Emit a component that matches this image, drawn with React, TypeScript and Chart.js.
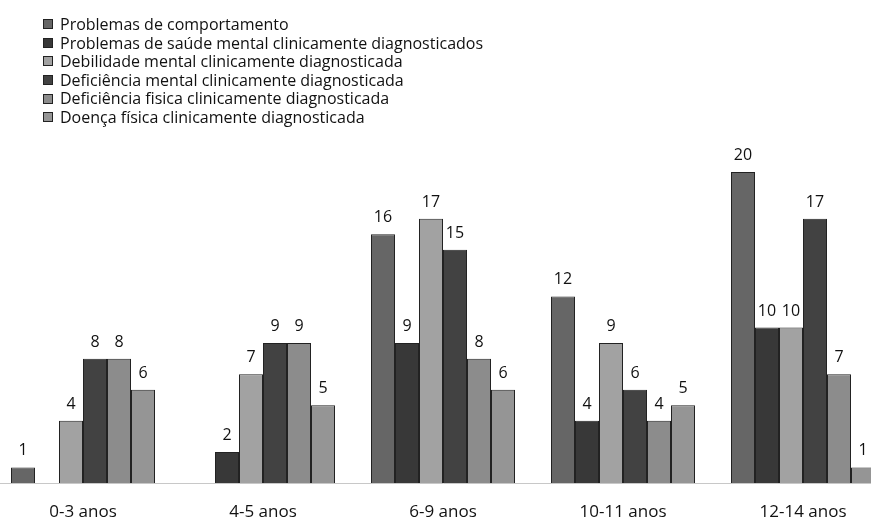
import React, { useEffect, useRef } from "react";
import { Chart, registerables } from "chart.js";

Chart.register(...registerables);

const categories = ["0-3 anos", "4-5 anos", "6-9 anos", "10-11 anos", "12-14 anos"];

const seriesNames = [
  "Problemas de comportamento",
  "Problemas de saúde mental clinicamente diagnosticados",
  "Debilidade mental clinicamente diagnosticada",
  "Deficiência mental clinicamente diagnosticada",
  "Deficiência fisica clinicamente diagnosticada",
  "Doença física clinicamente diagnosticada",
];

const comportamento = [1, null, 16, 12, 20];
const saudeMental = [null, 2, 9, 4, 10];
const debilidade = [4, 7, 17, 9, 10];
const deficienciaMental = [8, 9, 15, 6, 17];
const deficienciaFisica = [8, 9, 8, 4, 7];
const doencaFisica = [6, 5, 6, 5, 1];

const seriesValues = [
  comportamento,
  saudeMental,
  debilidade,
  deficienciaMental,
  deficienciaFisica,
  doencaFisica,
];

const seriesColors = ["#666666", "#383838", "#a2a2a2", "#424242", "#8c8c8c", "#959595"];

const FONT = "'Open Sans', 'DejaVu Sans', sans-serif";

const valueLabels = {
  id: "valueLabels",
  afterDatasetsDraw(chart: any) {
    const ctx = chart.ctx;
    ctx.save();
    ctx.font = `16px ${FONT}`;
    ctx.fillStyle = "#111111";
    ctx.textAlign = "center";
    ctx.textBaseline = "alphabetic";
    chart.data.datasets.forEach((ds: any, i: number) => {
      const meta = chart.getDatasetMeta(i);
      meta.data.forEach((el: any, j: number) => {
        const v = ds.data[j];
        if (v == null) return;
        ctx.fillText(String(v), el.x, el.y - 12);
      });
    });
    ctx.restore();
  },
};

export default function App() {
  const canvasRef = useRef<HTMLCanvasElement | null>(null);

  useEffect(() => {
    const canvas = canvasRef.current;
    if (!canvas) return;
    const chart = new Chart(canvas, {
      type: "bar",
      data: {
        labels: categories,
        datasets: seriesNames.map((name, i) => ({
          label: name,
          data: seriesValues[i],
          backgroundColor: seriesColors[i],
          borderColor: "#222222",
          borderWidth: 1,
          categoryPercentage: 0.8,
          barPercentage: 1.0,
        })),
      },
      options: {
        animation: false,
        responsive: false,
        devicePixelRatio: 1,
        layout: { padding: { top: 141, left: 0, right: 0, bottom: 0 } },
        plugins: {
          legend: { display: false },
          tooltip: { enabled: false },
        },
        scales: {
          x: {
            grid: { display: false, drawTicks: false },
            border: { display: true, color: "#c8c8c8", dash: [1, 4] },
            ticks: {
              font: { family: FONT, size: 17 },
              color: "#111111",
              padding: 19,
            },
            afterFit: (scale: any) => {
              scale.height = 40;
            },
          },
          y: {
            display: false,
            min: 0,
            max: 22,
          },
        },
      },
      plugins: [valueLabels],
    });
    return () => chart.destroy();
  }, []);

  return (
    <div
      style={{
        position: "absolute",
        left: 0,
        top: 0,
        width: 871,
        height: 523,
        overflow: "hidden",
        background: "#ffffff",
      }}
    >
      <canvas
        ref={canvasRef}
        width={900}
        height={523}
        style={{ position: "absolute", left: -7, top: 0, width: 900, height: 523 }}
      />
      <div
        style={{
          position: "absolute",
          left: 43,
          top: 15,
          fontFamily: FONT,
          fontSize: 16,
          lineHeight: "18.6px",
          color: "#111111",
        }}
      >
        {seriesNames.map((name, i) => (
          <div key={name} style={{ display: "flex", alignItems: "center", whiteSpace: "nowrap" }}>
            <span
              style={{
                display: "inline-block",
                width: 8,
                height: 8,
                background: seriesColors[i],
                border: "1px solid #222222",
                marginRight: 7,
              }}
            />
            <span>{name}</span>
          </div>
        ))}
      </div>
    </div>
  );
}
